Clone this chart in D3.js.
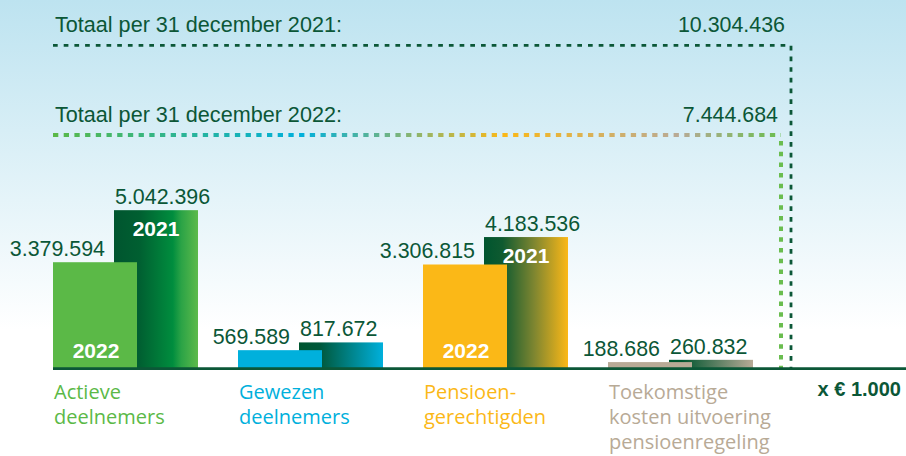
<!DOCTYPE html>
<meta charset="utf-8">
<style>
  body { margin: 0; background: #fff; }
  svg { display: block; }
</style>
<body>
<script src="https://cdn.jsdelivr.net/npm/d3@7"></script>
<script>
  // data (x € 1.000)
  var categories = ["Actieve deelnemers", "Gewezen deelnemers", "Pensioengerechtigden", "Toekomstige kosten uitvoering pensioenregeling"];
  var labelLines = [["Actieve", "deelnemers"], ["Gewezen", "deelnemers"], ["Pensioen-", "gerechtigden"], ["Toekomstige", "kosten uitvoering", "pensioenregeling"]];
  var values2022 = [3379594, 569589, 3306815, 188686];
  var values2021 = [5042396, 817672, 4183536, 260832];
  var totals = [10304436, 7444684];
  var totalLabels = ["Totaal per 31 december 2021:", "Totaal per 31 december 2022:"];
  var yearLabels = ["2022", "2021"];
  var unitLabel = "x € 1.000";

  var fmt = function(v) { return d3.format(",")(v).replace(/,/g, "."); };

  var darkGreen = "#0b5737";
  var colors2022 = ["#5bb947", "#00b0dc", "#fbb817", "#b8aa96"];
  var grads2021 = [
    [[0, "#00552f"], [0.3, "#005f31"], [0.7, "#008d3e"], [0.8, "#2ba346"], [1, "#5dba4b"]],
    [[0, "#00552f"], [0.25, "#00583b"], [1, "#00b0dc"]],
    [[0, "#00552f"], [0.22, "#0f5a30"], [0.6, "#7f8630"], [1, "#fbb817"]],
    [[0, "#00552f"], [0.15, "#00552f"], [1, "#b8aa96"]]
  ];

  var W = 906, H = 456;
  var svg = d3.select("body").append("svg")
          .attr("width", W)
          .attr("height", H);

  var defs = svg.append("defs");

  var bg = defs.append("linearGradient").attr("id", "bg")
          .attr("x1", 0).attr("y1", 0).attr("x2", 0).attr("y2", 1);
  bg.append("stop").attr("offset", 0).attr("stop-color", "#bde3f0");
  bg.append("stop").attr("offset", 1).attr("stop-color", "#ffffff");

  var baseY = 368;
  var yScale = d3.scaleLinear().domain([0, 10000000]).range([baseY, baseY - 313]);
  var x0 = d3.scaleBand().domain(categories).range([53, 753]).paddingInner(40 / 185).paddingOuter(0);
  var barW = 84;

  svg.append("rect")
          .attr("width", W).attr("height", 330)
          .attr("fill", "url(#bg)");

  // gradients for 2021 bars
  grads2021.forEach(function(stops, i) {
    var lg = defs.append("linearGradient").attr("id", "g21_" + i)
            .attr("x1", 0).attr("y1", 0).attr("x2", 1).attr("y2", 0);
    stops.forEach(function(s) {
      lg.append("stop").attr("offset", s[0]).attr("stop-color", s[1]);
    });
  });

  var lineEnd21 = 791, lineEnd22 = 781;

  // dotted 2022 line gradient
  var lg22 = defs.append("linearGradient").attr("id", "line22")
          .attr("gradientUnits", "userSpaceOnUse")
          .attr("x1", 53).attr("y1", 0).attr("x2", lineEnd22).attr("y2", 0);
  [[0, "#5bb947"], [0.34, "#00b0dc"], [0.62, "#fbb817"], [0.86, "#b8aa96"], [1, "#6abd4f"]].forEach(function(s) {
    lg22.append("stop").attr("offset", s[0]).attr("stop-color", s[1]);
  });

  var font = "'Liberation Sans', Arial, sans-serif";

  // total lines
  var y21 = yScale(totals[0]), y22 = yScale(totals[1]);
  svg.append("path")
          .attr("d", "M53," + y21 + "H" + lineEnd21 + "V" + baseY)
          .attr("fill", "none")
          .attr("stroke", darkGreen)
          .attr("stroke-width", 2.8)
          .attr("stroke-dasharray", "4.7 6");
  svg.append("path")
          .attr("d", "M53," + y22 + "H" + lineEnd22)
          .attr("fill", "none")
          .attr("stroke", "url(#line22)")
          .attr("stroke-width", 4)
          .attr("stroke-dasharray", "5.3 5.4");
  svg.append("path")
          .attr("d", "M" + lineEnd22 + "," + (y22 + 6) + "V" + baseY)
          .attr("fill", "none")
          .attr("stroke", "#6abd4f")
          .attr("stroke-width", 4)
          .attr("stroke-dasharray", "4.5 6.2");

  svg.selectAll(".total-label")
          .data(totals)
          .enter().append("text")
          .attr("x", 55)
          .attr("y", function(d) { return yScale(d) - 13; })
          .attr("font-family", font).attr("font-size", 21.6)
          .attr("fill", darkGreen)
          .text(function(d, i) { return totalLabels[i]; });

  svg.selectAll(".total-value")
          .data(totals)
          .enter().append("text")
          .attr("x", function(d, i) { return i === 0 ? 785 : 778; })
          .attr("y", function(d) { return yScale(d) - 13; })
          .attr("text-anchor", "end")
          .attr("font-family", font).attr("font-size", 21.4)
          .attr("fill", darkGreen)
          .text(function(d) { return fmt(d); });

  // bars 2021 (behind)
  var bars = svg.append("g");
  bars.selectAll(".b21")
          .data(values2021)
          .enter().append("rect")
          .attr("x", function(d, i) { return x0(categories[i]) + x0.bandwidth() - barW; })
          .attr("y", function(d) { return yScale(d); })
          .attr("width", barW)
          .attr("height", function(d) { return baseY - yScale(d); })
          .attr("fill", function(d, i) { return "url(#g21_" + i + ")"; });

  bars.selectAll(".b22")
          .data(values2022)
          .enter().append("rect")
          .attr("x", function(d, i) { return x0(categories[i]); })
          .attr("y", function(d) { return yScale(d); })
          .attr("width", barW)
          .attr("height", function(d) { return baseY - yScale(d); })
          .attr("fill", function(d, i) { return colors2022[i]; });

  // value labels
  svg.selectAll(".v21")
          .data(values2021)
          .enter().append("text")
          .attr("x", function(d, i) { return x0(categories[i]) + x0.bandwidth() - barW + 1; })
          .attr("y", function(d) { return yScale(d) - 6; })
          .attr("font-family", font).attr("font-size", 21.4)
          .attr("fill", darkGreen)
          .text(function(d) { return fmt(d); });

  svg.selectAll(".v22")
          .data(values2022)
          .enter().append("text")
          .attr("x", function(d, i) { return x0(categories[i]) + x0.bandwidth() - barW - 9; })
          .attr("y", function(d) { return yScale(d) - 6; })
          .attr("text-anchor", "end")
          .attr("font-family", font).attr("font-size", 21.4)
          .attr("fill", darkGreen)
          .text(function(d) { return fmt(d); });

  // year labels inside the large bars
  [0, 2].forEach(function(i) {
    svg.append("text")
            .attr("x", x0(categories[i]) + barW / 2 + 1)
            .attr("y", baseY - 10)
            .attr("text-anchor", "middle")
            .attr("font-family", font).attr("font-size", 21).attr("font-weight", "bold")
            .attr("fill", "#fff")
            .text(yearLabels[0]);
    svg.append("text")
            .attr("x", x0(categories[i]) + x0.bandwidth() - barW / 2)
            .attr("y", yScale(values2021[i]) + 26)
            .attr("text-anchor", "middle")
            .attr("font-family", font).attr("font-size", 21).attr("font-weight", "bold")
            .attr("fill", "#fff")
            .text(yearLabels[1]);
  });

  // baseline
  svg.append("line")
          .attr("x1", 53).attr("x2", W)
          .attr("y1", baseY + 0.6).attr("y2", baseY + 0.6)
          .attr("stroke", darkGreen)
          .attr("stroke-width", 2.6);

  // category labels
  var cat = svg.selectAll(".cat")
          .data(categories)
          .enter().append("text")
          .attr("font-family", "'Open Sans', sans-serif")
          .attr("font-size", 20)
          .attr("fill", function(d, i) { return colors2022[i]; });
  cat.each(function(d, i) {
    d3.select(this).selectAll("tspan")
            .data(labelLines[i])
            .enter().append("tspan")
            .attr("x", x0(d) + 1)
            .attr("y", function(l, j) { return 399 + j * 25; })
            .text(function(l) { return l; });
  });

  svg.append("text")
          .attr("x", 901)
          .attr("y", 396)
          .attr("text-anchor", "end")
          .attr("font-family", font).attr("font-size", 20).attr("font-weight", "bold")
          .attr("fill", darkGreen)
          .text(unitLabel);
</script>
</body>
</html>
